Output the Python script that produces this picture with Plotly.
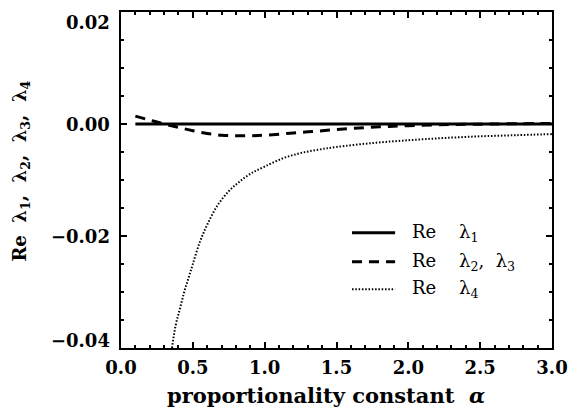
import plotly.graph_objects as go

# --- data ---
alpha_l1 = [0.1, 3.0]
re_l1 = [0.0, 0.0]

alpha_l23 = [0.1, 0.2, 0.3, 0.4, 0.5, 0.6, 0.7, 0.8, 0.9, 1.0, 1.2, 1.4, 1.6, 1.8, 2.0, 2.3, 2.6, 3.0]
re_l23 = [0.0014, 0.0007, 0.0000, -0.0006, -0.0012, -0.0017, -0.0020, -0.0021, -0.0021, -0.0020,
          -0.0016, -0.0012, -0.0008, -0.0005, -0.0003, -0.0001, 0.0000, 0.0001]

alpha_l4 = [0.355, 0.38, 0.41, 0.44, 0.47, 0.5, 0.55, 0.6, 0.67, 0.75, 0.82, 0.9, 1.0, 1.13, 1.25,
            1.37, 1.5, 1.75, 2.0, 2.25, 2.5, 2.75, 3.0]
re_l4 = [-0.040, -0.036, -0.033, -0.030, -0.0275, -0.025, -0.021, -0.0180, -0.0146, -0.0120, -0.0104,
         -0.0089, -0.0076, -0.0061, -0.0052, -0.0046, -0.0041, -0.0034, -0.0029, -0.0025, -0.0022,
         -0.0020, -0.0018]

x_ticks = [0.0, 0.5, 1.0, 1.5, 2.0, 2.5, 3.0]
x_labels = ["0.0", "0.5", "1.0", "1.5", "2.0", "2.5", "3.0"]
y_ticks = [-0.04, -0.02, 0.00, 0.02]
y_labels = ["\u22120.04", "\u22120.02", "0.00", "0.02"]

NB = "\u00a0"
series_names = ["Re" + NB * 4 + "\u03bb<sub>1</sub>",
                "Re" + NB * 4 + "\u03bb<sub>2</sub>," + NB * 2 + "\u03bb<sub>3</sub>",
                "Re" + NB * 4 + "\u03bb<sub>4</sub>"]
y_title = ("Re" + NB * 2 + "\u03bb<sub>1</sub>," + NB * 2 + "\u03bb<sub>2</sub>," + NB * 2
           + "\u03bb<sub>3</sub>," + NB * 2 + "\u03bb<sub>4</sub>")
x_title = "proportionality constant" + NB * 2 + "<i>\u03b1</i>"

# --- styles ---
styles = [dict(color="black", width=3),
          dict(color="black", width=3, dash="10px,7px"),
          dict(color="black", width=2, dash="1.5px,1.8px")]

fig = go.Figure()
for xs, ys, name, st in zip([alpha_l1, alpha_l23, alpha_l4], [re_l1, re_l23, re_l4], series_names, styles):
    line = dict(st)
    if len(xs) > 2:
        line["shape"] = "spline"
    fig.add_trace(go.Scatter(x=xs, y=ys, mode="lines", name=name, line=line, showlegend=False))

# manual legend (symbol + label), placed in paper coordinates
leg_x0, leg_x1, leg_tx = 0.536, 0.636, 0.6705
leg_rows = [0.343, 0.257, 0.175]
for name, st, ry in zip(series_names, styles, leg_rows):
    fig.add_shape(type="line", xref="paper", yref="paper", x0=leg_x0, x1=leg_x1, y0=ry, y1=ry,
                  line=dict(color=st["color"], width=st["width"], dash=st.get("dash", "solid")))
    fig.add_annotation(text=name, xref="paper", yref="paper", x=leg_tx, y=ry, xanchor="left",
                       yanchor="middle", showarrow=False,
                       font=dict(family="DejaVu Serif", size=18, color="black"))

tickfont = dict(family="DejaVu Serif", size=18, color="black", weight="bold")

# y tick labels as annotations (end labels pulled inward as in the reference)
y_label_shift = [8, 0, 0, -10]
for v, t, s in zip(y_ticks, y_labels, y_label_shift):
    fig.add_annotation(text=t, xref="paper", yref="y", x=0, y=v, xanchor="right", yanchor="middle",
                       xshift=-9, yshift=s, showarrow=False, font=tickfont)

# axis titles
fig.add_annotation(text=x_title, xref="paper", yref="paper",
                   x=0.475, y=-0.142, xanchor="center", yanchor="middle", showarrow=False,
                   font=dict(family="DejaVu Serif", size=21, color="black", weight="bold"))
fig.add_annotation(text=y_title, xref="paper", yref="paper", x=-0.232, y=0.525,
                   xanchor="center", yanchor="middle", textangle=-90, showarrow=False,
                   font=dict(family="DejaVu Serif", size=18, color="black", weight="bold"))

fig.update_layout(
    width=571, height=408,
    margin=dict(l=121, r=19, t=12, b=60),
    paper_bgcolor="white", plot_bgcolor="white",
    showlegend=False,
    xaxis=dict(range=[0, 3.0], tickvals=x_ticks, ticktext=x_labels, automargin=False,
               ticks="inside", ticklen=6, tickwidth=1.5, tickcolor="black",
               minor=dict(dtick=0.1, ticks="inside", ticklen=3, tickwidth=1.5, tickcolor="black"),
               showline=True, linecolor="black", linewidth=2, mirror="allticks",
               showgrid=False, zeroline=False, tickfont=tickfont, ticklabelstandoff=2),
    yaxis=dict(range=[-0.04, 0.02], tickvals=y_ticks, ticktext=y_labels, automargin=False,
               showticklabels=False,
               ticks="inside", ticklen=6, tickwidth=1.5, tickcolor="black",
               minor=dict(dtick=0.005, ticks="inside", ticklen=3, tickwidth=1.5, tickcolor="black"),
               showline=True, linecolor="black", linewidth=2, mirror="allticks",
               showgrid=False, zeroline=False),
)

fig.write_html("out.html")
